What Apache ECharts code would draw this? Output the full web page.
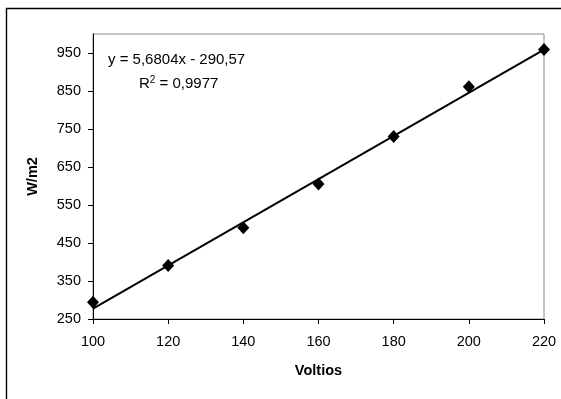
<!DOCTYPE html>
<html><head><meta charset="utf-8">
<script src="https://cdn.jsdelivr.net/npm/echarts@6/dist/echarts.min.js"></script>
<style>html,body{margin:0;padding:0;background:#fff}#c{width:561px;height:399px}</style>
</head><body><div id="c"></div>
<script>
const voltios = [100, 120, 140, 160, 180, 200, 220];
const wm2 = [294, 391, 490, 605, 730, 861, 959];
const trendX = [100, 220];
const trendY = [277.47, 959.12];
const yTicks = [250, 350, 450, 550, 650, 750, 850, 950];
const xTitle = 'Voltios';
const yTitle = 'W/m2';
const eqLine1 = 'y = 5,6804x - 290,57';
const eqLine2 = 'R{sup|2} = 0,9977';

const chart = echarts.init(document.getElementById('c'), null, {renderer: 'canvas'});
const font = 'Liberation Sans, Arial, sans-serif';
chart.setOption({
  animation: false,
  backgroundColor: '#fff',
  grid: {left: 93, top: 34, right: 17, bottom: 80, show: true, borderColor: '#8c8c8c', borderWidth: 1, backgroundColor: 'transparent'},
  xAxis: {
    type: 'value', min: 100, max: 220, interval: 20,
    name: xTitle, nameLocation: 'middle', nameGap: 44,
    nameTextStyle: {fontFamily: font, fontSize: 14.5, fontWeight: 'bold', color: '#000'},
    axisLine: {show: true, lineStyle: {color: '#000', width: 1}},
    axisTick: {show: true, length: 5, lineStyle: {color: '#000'}},
    axisLabel: {fontFamily: font, fontSize: 14.5, color: '#000', margin: 15},
    splitLine: {show: false}
  },
  yAxis: {
    type: 'value', min: 250, max: 1000,
    name: yTitle, nameLocation: 'middle', nameGap: 53,
    nameTextStyle: {fontFamily: font, fontSize: 14.5, fontWeight: 'bold', color: '#000'},
    axisLine: {show: true, lineStyle: {color: '#000', width: 1}},
    axisTick: {show: true, length: 5, lineStyle: {color: '#000'}, customValues: yTicks},
    axisLabel: {fontFamily: font, fontSize: 14.5, color: '#000', margin: 12, customValues: yTicks},
    splitLine: {show: false}
  },
  series: [
    {
      type: 'line', data: trendX.map((x, i) => [x, trendY[i]]),
      symbol: 'none', lineStyle: {color: '#000', width: 2}, z: 2
    },
    {
      type: 'scatter', data: voltios.map((x, i) => [x, wm2[i]]),
      symbol: 'diamond', symbolSize: [12, 13], itemStyle: {color: '#000', opacity: 1}, z: 3
    }
  ],
  graphic: [
    {type: 'rect', shape: {x: 6.5, y: 8.5, width: 600, height: 450}, style: {fill: 'none', stroke: '#000', lineWidth: 1.4}, silent: true},
    {type: 'text', left: 108, top: 52, style: {text: eqLine1, font: '15px ' + font, fill: '#000'}},
    {type: 'text', left: 139, top: 75, style: {text: eqLine2, font: '15px ' + font, fill: '#000',
      rich: {sup: {fontSize: 10, verticalAlign: 'top', padding: [0, 0, 8, 0], fontFamily: font}}}}
  ]
});
</script></body></html>
